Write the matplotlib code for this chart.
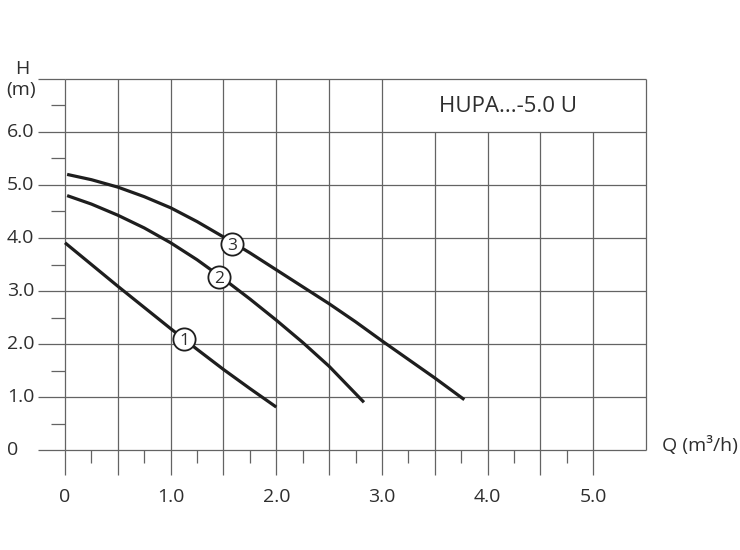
import numpy as np
import matplotlib
matplotlib.use("Agg")
import matplotlib.pyplot as plt

plt.rcParams['font.family'] = ['Open Sans', 'DejaVu Sans']

# pump curves: flow Q (m3/h) vs head H (m)
q1 = [0.0, 0.25, 0.5, 0.75, 1.0, 1.25, 1.5, 1.75, 2.0]
h1 = [3.91, 3.50, 3.09, 2.69, 2.29, 1.90, 1.52, 1.16, 0.81]

q2 = [0.02, 0.25, 0.5, 0.75, 1.0, 1.25, 1.5, 1.75, 2.0, 2.25, 2.5, 2.83]
h2 = [4.80, 4.64, 4.43, 4.19, 3.91, 3.59, 3.23, 2.85, 2.45, 2.03, 1.58, 0.90]

q3 = [0.02, 0.25, 0.5, 0.75, 1.0, 1.25, 1.5, 1.75, 2.0, 2.25, 2.5, 2.75, 3.0, 3.25, 3.5, 3.78]
h3 = [5.20, 5.10, 4.96, 4.78, 4.57, 4.31, 4.02, 3.72, 3.40, 3.08, 2.76, 2.42, 2.06, 1.71, 1.36, 0.95]

# speed markers (circled numbers)
mark_names = ['1', '2', '3']
mark_q = [1.13, 1.46, 1.58]
mark_h = [2.09, 3.26, 3.89]

# axes
x_major = [0, 0.5, 1.0, 1.5, 2.0, 2.5, 3.0, 3.5, 4.0, 4.5, 5.0]
x_labels = ['0', '', '1.0', '', '2.0', '', '3.0', '', '4.0', '', '5.0']
x_minor = [0.25, 0.75, 1.25, 1.75, 2.25, 2.75, 3.25, 3.75, 4.25, 4.75]
y_major = [0, 1, 2, 3, 4, 5, 6, 7]
y_labels = ['0', '1.0', '2.0', '3.0', '4.0', '5.0', '6.0', '']
y_minor = [0.5, 1.5, 2.5, 3.5, 4.5, 5.5, 6.5]
title = 'HUPA...-5.0 U'

gc = '#636363'
glw = 0.9
txt = '#2e2e2e'
ink = '#1e1e1e'

fig = plt.figure(figsize=(7.4, 5.5), dpi=100)
ax = fig.add_axes([65 / 740, 100 / 550, 581 / 740, 371 / 550])
ax.set_xlim(0, 5.5)
ax.set_ylim(0, 7)
for s in ax.spines.values():
    s.set_visible(False)

# grid: the box behind the title has no verticals
vx = x_major + [5.5]
vtop = [7 if (x <= 3.0 or x == 5.5) else 6 for x in vx]
ax.vlines(vx, 0, vtop, color=gc, lw=glw, clip_on=False, zorder=1)
ax.hlines(y_major, 0, 5.5, color=gc, lw=glw, clip_on=False, zorder=1)

ax.set_xticks(x_major)
ax.set_xticklabels(x_labels)
ax.set_xticks(x_minor, minor=True)
ax.set_yticks(y_major)
ax.set_yticklabels([])
ax.set_yticks(y_minor, minor=True)
ax.tick_params(axis='x', which='major', length=18, width=glw, color=gc,
               pad=9, labelsize=14, labelcolor=txt)
ax.tick_params(axis='x', which='minor', length=9.4, width=glw, color=gc)
ax.tick_params(axis='y', which='major', length=19.4, width=glw, color=gc)
ax.tick_params(axis='y', which='minor', length=10, width=glw, color=gc)

# y labels are left aligned in the original
for v, lab in zip(y_major, y_labels):
    ax.annotate(lab, xy=(0, v), xycoords='data', xytext=(-58 * 0.72, 0),
                textcoords='offset points', ha='left', va='center',
                fontsize=14, color=txt, annotation_clip=False)

for q, h in [(q1, h1), (q2, h2), (q3, h3)]:
    ax.plot(q, h, color=ink, lw=2.3, solid_capstyle='butt',
            solid_joinstyle='round', zorder=3, clip_on=False)

ax.plot(mark_q, mark_h, 'o', ms=16, mfc='white', mec=ink, mew=1.3, zorder=4)
for n, q, h in zip(mark_names, mark_q, mark_h):
    ax.text(q, h, n, ha='center', va='center_baseline', fontsize=12.5,
            color=txt, zorder=5)

fig.text(22 / 740, 1 - 69 / 550, 'H', ha='center', va='center', fontsize=14, color=txt)
fig.text(21 / 740, 1 - 90 / 550, '(m)', ha='center', va='center', fontsize=14, color=txt)
fig.text(662 / 740, 1 - 446 / 550, 'Q (m³/h)', ha='left', va='center', fontsize=14, color=txt)
fig.text(508 / 740, 1 - 107 / 550, title, ha='center', va='center', fontsize=16, color=txt)

fig.savefig('out.png', dpi=100, facecolor='white')
